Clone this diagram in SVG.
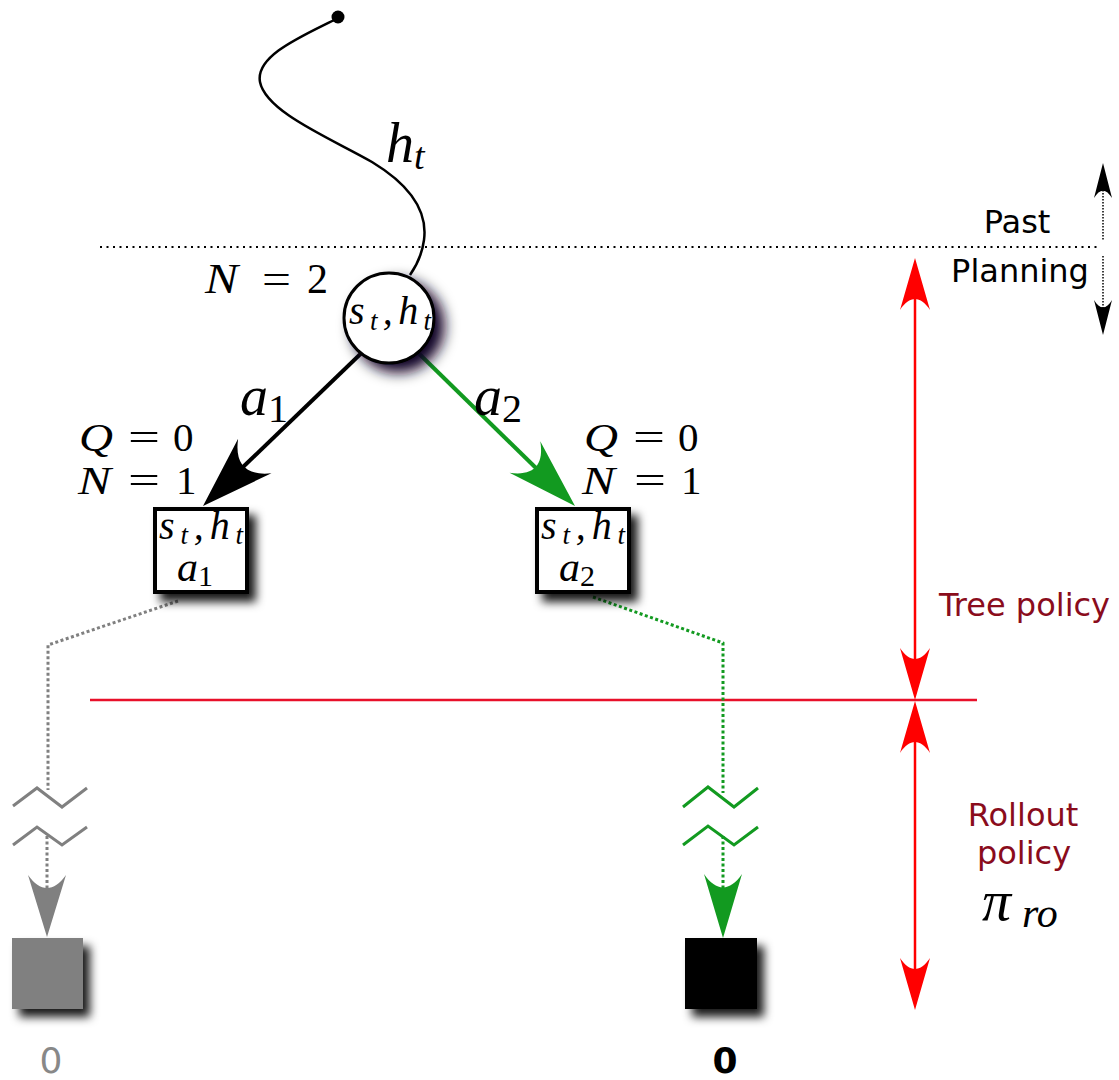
<svg xmlns="http://www.w3.org/2000/svg" width="1119" height="1080" viewBox="0 0 1119 1080">
  <style>
    .math { font-family: "Liberation Serif", "DejaVu Serif", serif; font-style: italic; fill: #000; }
    .num { font-family: "Liberation Serif", "DejaVu Serif", serif; font-style: normal; fill: #000; }
    .sans { font-family: "DejaVu Sans", "Liberation Sans", sans-serif; font-size: 32px; }
    .label { fill: #000; }
    .policy { fill: #8a0c1c; }
    .dotted-gray { fill: none; stroke: #808080; stroke-width: 3; stroke-dasharray: 3 2.5; }
    .dotted-green { fill: none; stroke: #129a20; stroke-width: 3; stroke-dasharray: 3 2.5; }
    .zig-gray { fill: none; stroke: #808080; stroke-width: 3; }
    .zig-green { fill: none; stroke: #129a20; stroke-width: 3; }
    .red { stroke: #ff0000; stroke-width: 2.5; fill: none; }
    .box { fill: #fff; stroke: #000; stroke-width: 4; }
  </style>
  <defs>
    <!-- swept arrowhead, tip at origin pointing +x, unit length / half-width -->
    <path id="head" d="M0,0 L-1,-1 C-0.72,-0.35 -0.72,0.35 -1,1 Z"/>
    <filter id="shadow" x="-40%" y="-40%" width="190%" height="190%">
      <feGaussianBlur in="SourceAlpha" stdDeviation="5" result="b"/>
      <feOffset in="b" dx="7" dy="8" result="o"/>
      <feFlood flood-color="#000000" flood-opacity="0.9"/>
      <feComposite in2="o" operator="in" result="s"/>
      <feMerge><feMergeNode in="s"/><feMergeNode in="SourceGraphic"/></feMerge>
    </filter>
    <filter id="shadowPurple" x="-50%" y="-50%" width="210%" height="210%">
      <feGaussianBlur in="SourceAlpha" stdDeviation="7" result="b"/>
      <feOffset in="b" dx="9" dy="8" result="o"/>
      <feFlood flood-color="#120024" flood-opacity="1"/>
      <feComposite in2="o" operator="in" result="s"/>
      <feMerge><feMergeNode in="s"/><feMergeNode in="SourceGraphic"/></feMerge>
    </filter>
  </defs>

  <!-- boundary between past and planning -->
  <line x1="100" y1="247" x2="1100" y2="247" stroke="#000" stroke-width="2" stroke-dasharray="2 4.5"/>
  <!-- boundary between tree policy and rollout -->
  <line x1="90" y1="700" x2="977" y2="700" stroke="#e8102a" stroke-width="2.5"/>

  <g id="connectors">
    <!-- history trajectory -->
    <path d="M338,18 C305,35 255,55 260,82 C266,112 330,138 372,162 C410,185 428,210 424,240 C422,255 417,265 410,275" fill="none" stroke="#000" stroke-width="2.5"/>
    <!-- action a1 -->
    <line x1="375" y1="340" x2="243" y2="467" stroke="#000" stroke-width="4"/>
    <use href="#head" transform="translate(203,506) rotate(136) scale(72,24)" fill="#000"/>
    <!-- action a2 -->
    <line x1="403" y1="338" x2="537" y2="469" stroke="#129a20" stroke-width="4"/>
    <use href="#head" transform="translate(575,506) rotate(44.3) scale(70,22)" fill="#129a20"/>
    <!-- rollout from a1 -->
    <polyline class="dotted-gray" points="178,601 48,645 48,790"/>
    <path class="zig-gray" d="M13,806 L37,788 L62,807 L87,788 M13,845 L37,827 L62,845 L87,827"/>
    <line class="dotted-gray" x1="47" y1="836" x2="47" y2="895"/>
    <use href="#head" transform="translate(47,937) rotate(90) scale(62,19)" fill="#808080"/>
    <!-- rollout from a2 -->
    <polyline class="dotted-green" points="593,597 723,643 723,793"/>
    <path class="zig-green" d="M683,807 L708,787 L734,807 L758,788 M683,845 L708,826 L734,845 L758,827"/>
    <line class="dotted-green" x1="723" y1="836" x2="723" y2="895"/>
    <use href="#head" transform="translate(723,938) rotate(90) scale(64,19)" fill="#129a20"/>
    <!-- tree policy span -->
    <line class="red" x1="915" y1="285" x2="915" y2="673"/>
    <use href="#head" transform="translate(915,258) rotate(-90) scale(52,15)" fill="#ff0000"/>
    <use href="#head" transform="translate(915,700) rotate(90) scale(52,15)" fill="#ff0000"/>
    <!-- rollout policy span -->
    <line class="red" x1="915" y1="728" x2="915" y2="983"/>
    <use href="#head" transform="translate(915,701) rotate(-90) scale(52,15)" fill="#ff0000"/>
    <use href="#head" transform="translate(915,1010) rotate(90) scale(52,15)" fill="#ff0000"/>
    <!-- past / planning indicator -->
    <line x1="1103" y1="190" x2="1103" y2="240" stroke="#000" stroke-width="1.5" stroke-dasharray="1.5 1.5"/>
    <line x1="1103" y1="256" x2="1103" y2="308" stroke="#000" stroke-width="1.5" stroke-dasharray="1.5 1.5"/>
    <use href="#head" transform="translate(1103,163) rotate(-90) scale(35,9)" fill="#000"/>
    <use href="#head" transform="translate(1103,335) rotate(90) scale(35,9)" fill="#000"/>
  </g>

  <g id="start">
    <circle cx="338" cy="17" r="6.5" fill="#000"/>
  </g>
  <text class="math" x="386" y="162" font-size="56">h<tspan font-size="38" dy="7">t</tspan></text>

  <g id="root">
    <circle cx="389" cy="318" r="45" fill="#fff" stroke="#000" stroke-width="3" filter="url(#shadowPurple)"/>
    <text class="math" x="349" y="324" font-size="40" textLength="82" lengthAdjust="spacing">s<tspan font-size="27" dy="6">t</tspan><tspan font-size="40" dy="-6">,h</tspan><tspan font-size="27" dy="6">t</tspan></text>
    <text class="math" x="205" y="293" font-size="42" textLength="33" lengthAdjust="spacingAndGlyphs">N</text>
    <text class="num" x="262" y="293" font-size="42" textLength="29" lengthAdjust="spacingAndGlyphs">=</text>
    <text class="num" x="307" y="293" font-size="42">2</text>
  </g>

  <text class="math" x="240" y="415" font-size="56">a<tspan class="num" font-size="40" dy="7">1</tspan></text>
  <text class="math" x="474" y="415" font-size="56">a<tspan class="num" font-size="40" dy="7">2</tspan></text>

  <g id="node-a1">
    <rect class="box" x="155" y="509" width="92" height="83" filter="url(#shadow)"/>
    <text class="math" x="159" y="539" font-size="40" textLength="84" lengthAdjust="spacing">s<tspan font-size="27" dy="5">t</tspan><tspan font-size="40" dy="-5">,h</tspan><tspan font-size="27" dy="5">t</tspan></text>
    <text class="math" x="177" y="581" font-size="42">a<tspan class="num" font-size="30" dy="5">1</tspan></text>
    <text class="math" x="79" y="451" font-size="41" textLength="34" lengthAdjust="spacingAndGlyphs">Q</text>
    <text class="num" x="128" y="451" font-size="41" textLength="32" lengthAdjust="spacingAndGlyphs">=</text>
    <text class="num" x="173" y="451" font-size="41">0</text>
    <text class="math" x="78" y="494" font-size="41" textLength="33" lengthAdjust="spacingAndGlyphs">N</text>
    <text class="num" x="128" y="494" font-size="41" textLength="32" lengthAdjust="spacingAndGlyphs">=</text>
    <text class="num" x="176" y="494" font-size="41">1</text>
  </g>

  <g id="node-a2">
    <rect class="box" x="537" y="509" width="92" height="83" filter="url(#shadow)"/>
    <text class="math" x="541" y="539" font-size="40" textLength="84" lengthAdjust="spacing">s<tspan font-size="27" dy="5">t</tspan><tspan font-size="40" dy="-5">,h</tspan><tspan font-size="27" dy="5">t</tspan></text>
    <text class="math" x="559" y="581" font-size="42">a<tspan class="num" font-size="30" dy="5">2</tspan></text>
    <text class="math" x="584" y="451" font-size="41" textLength="34" lengthAdjust="spacingAndGlyphs">Q</text>
    <text class="num" x="633" y="451" font-size="41" textLength="32" lengthAdjust="spacingAndGlyphs">=</text>
    <text class="num" x="678" y="451" font-size="41">0</text>
    <text class="math" x="582" y="494" font-size="41" textLength="33" lengthAdjust="spacingAndGlyphs">N</text>
    <text class="num" x="634" y="494" font-size="41" textLength="32" lengthAdjust="spacingAndGlyphs">=</text>
    <text class="num" x="681" y="494" font-size="41">1</text>
  </g>

  <g id="leaf-a1">
    <rect x="12" y="938" width="71" height="71" fill="#808080" filter="url(#shadow)"/>
    <text class="sans" x="51" y="1073" fill="#888" text-anchor="middle" style="font-size:36px">0</text>
  </g>

  <g id="leaf-a2">
    <rect x="685" y="938" width="72" height="71" fill="#000" filter="url(#shadow)"/>
    <text class="sans" x="725" y="1073" fill="#000" font-weight="bold" text-anchor="middle" style="font-size:36px">0</text>
  </g>

  <g id="legend">
    <text class="sans label" x="1017" y="233" text-anchor="middle">Past</text>
    <text class="sans label" x="1020" y="282" text-anchor="middle">Planning</text>
    <text class="sans policy" x="939" y="616">Tree policy</text>
    <text class="sans policy" x="1023" y="826" text-anchor="middle">Rollout</text>
    <text class="sans policy" x="1024" y="864" text-anchor="middle">policy</text>
    <text class="math" x="982" y="920" font-size="58">π</text>
    <text class="math" x="1022" y="927" font-size="42">ro</text>
  </g>
</svg>
